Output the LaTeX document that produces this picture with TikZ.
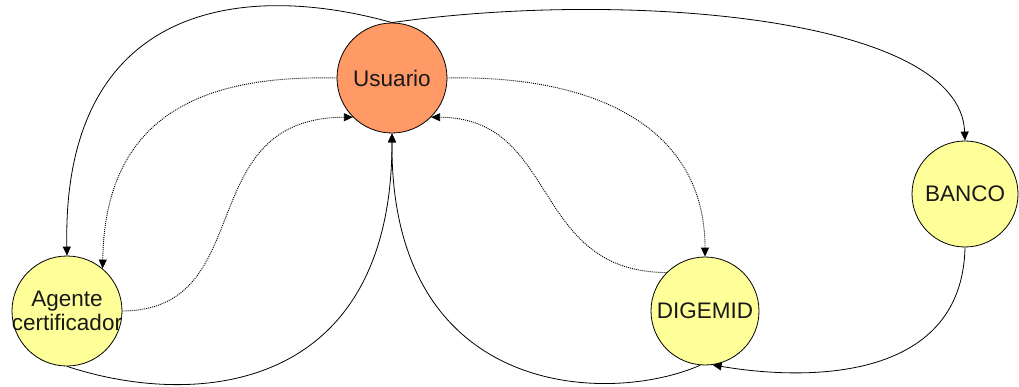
\documentclass[tikz,border=0pt]{standalone}
\usepackage{fontspec}
\setmainfont{Liberation Sans}
\usetikzlibrary{arrows.meta}
\definecolor{orng}{HTML}{FF9966}
\definecolor{ylw}{HTML}{FFFF99}
\begin{document}
\begin{tikzpicture}[x=1pt,y=-1pt,
  ent/.style={circle,draw=black,line width=0.8pt,inner sep=0pt},
  txt/.style={label={[font=\fontsize{22.5}{23.5}\selectfont,align=center,
    text=black!90,inner sep=0pt]center:#1}},
  link/.style={line width=0.8pt,-{Triangle[length=9pt,width=8pt]}},
  dlink/.style={link,line width=0.9pt,dash pattern=on 1pt off 1pt}]
\useasboundingbox (0,0) rectangle (1019,387);
\node[ent,fill=orng,minimum size=110pt,txt={Usuario}] (usr) at (392,78) {};
\node[ent,fill=ylw,minimum size=110pt,txt={Agente\\certificador}] (agt) at (67,311) {};
\node[ent,fill=ylw,minimum size=108pt,txt={DIGEMID}] (dig) at (705,311) {};
\node[ent,fill=ylw,minimum size=106pt,txt={BANCO}] (ban) at (965,194) {};
% solid connectors
\draw[link] (usr.north) .. controls (240,-20) and (62,5) .. (agt.north);
\draw[link] (usr.north) .. controls (620,-10) and (960,15) .. (ban.north);
\draw[link] (ban.south) .. controls (962,385) and (800,380) .. (dig.-82);
\draw[link] (agt.south) .. controls (200,410) and (392,390) .. (usr.south);
\draw[link] (dig.-95) .. controls (610,405) and (390,400) .. (usr.south);
% dotted connectors
\draw[dlink] (usr.west) .. controls (210,75) and (105,110) .. (agt.50);
\draw[dlink] (agt.east) .. controls (260,310) and (190,118) .. (usr.225);
\draw[dlink] (usr.east) .. controls (600,75) and (705,130) .. (dig.north);
\draw[dlink] (dig.135) .. controls (530,272) and (560,118) .. (usr.-45);
\end{tikzpicture}
\end{document}
